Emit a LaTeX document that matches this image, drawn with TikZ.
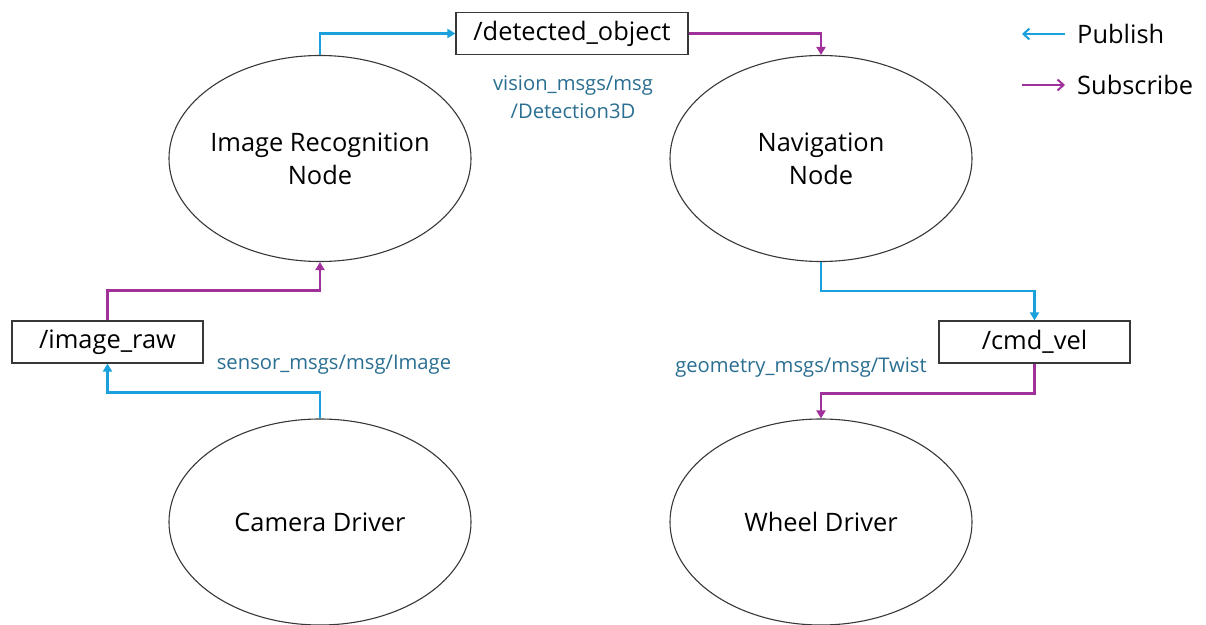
\documentclass[tikz,border=0pt]{standalone}
\usepackage{fontspec}
\setmainfont{Open Sans}
\usetikzlibrary{arrows.meta,shapes.geometric}
\definecolor{pubc}{HTML}{1AA0DA}
\definecolor{subc}{HTML}{A0309A}
\definecolor{lblc}{HTML}{2A6F92}
\definecolor{edgec}{HTML}{383838}
\tikzset{
  procnode/.style={ellipse, draw=edgec, line width=1.1pt, minimum width=302bp, minimum height=206bp, inner sep=0pt},
  proctext/.style={align=center, inner sep=0pt, font=\fontsize{25.5}{33}\selectfont},
  topicbox/.style={rectangle, draw=edgec, line width=1.2pt, minimum height=42bp, inner sep=0pt, font=\fontsize{25.5}{28}\selectfont},
  msglabel/.style={text=lblc, align=center, inner sep=0pt, font=\fontsize{20.3}{28}\selectfont},
  pubarrow/.style={draw=pubc, line width=2.4pt, -{Triangle[width=9pt,length=8pt]}},
  subarrow/.style={draw=subc, line width=2.4pt, -{Triangle[width=9pt,length=8pt]}},
  legarrow/.style={line width=2pt, -{Straight Barb[width=11pt,length=6pt]}},
  legtext/.style={anchor=west, inner sep=0pt, font=\fontsize{25.5}{28}\selectfont}
}
\begin{document}
\begin{tikzpicture}[x=1bp,y=-1bp]
\useasboundingbox (0,0) rectangle (1206,625);
\fill[white] (0,0) rectangle (1206,625);
% process nodes
\node[procnode, label={[proctext]center:Image Recognition\\Node}] (irn) at (320,158.5) {};
\node[procnode, label={[proctext]center:Navigation\\Node}] (nav) at (821,158.5) {};
\node[procnode, label={[proctext]center:Camera Driver}] (cam) at (320,522) {};
\node[procnode, label={[proctext]center:Wheel Driver}] (whl) at (821,522) {};
% topics
\node[topicbox, minimum width=232bp] (det) at (572,33.5) {/detected\_object};
\node[topicbox, minimum width=191bp] (raw) at (107.5,342) {/image\_raw};
\node[topicbox, minimum width=191bp] (cmd) at (1034.5,342) {/cmd\_vel};
% connectors
\draw[pubarrow] (irn.north) |- (det.west);
\draw[subarrow] (det.east) -| (nav.north);
\draw[pubarrow] (cam.north) -- ++(0,-26) -| (raw.south);
\draw[subarrow] (raw.north) -- ++(0,-30) -| (irn.south);
\draw[pubarrow] (nav.south) -- ++(0,29) -| (cmd.north);
\draw[subarrow] (cmd.south) -- ++(0,30) -| (whl.north);
% message labels
\node[msglabel] (l1) at (573,97) {vision\_msgs/msg\\/Detection3D};
\node[msglabel] (l2) at (334,365) {sensor\_msgs/msg/Image};
\node[msglabel] (l3) at (801,368) {geometry\_msgs/msg/Twist};
% legend
\coordinate (pa) at (1065,34);
\coordinate (pb) at (1022,34);
\coordinate (sa) at (1022,85);
\coordinate (sb) at (1065,85);
\draw[legarrow, draw=pubc] (pa) -- (pb);
\draw[legarrow, draw=subc] (sa) -- (sb);
\node[legtext] (lp) at (1077,34) {Publish};
\node[legtext] (ls) at (1077,85) {Subscribe};
\end{tikzpicture}
\end{document}
